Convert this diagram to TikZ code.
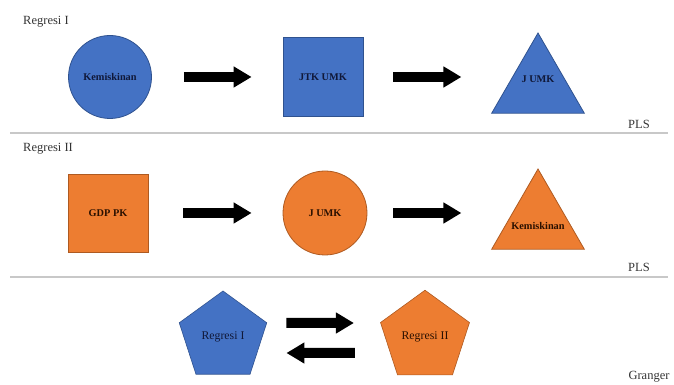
\documentclass[tikz,border=0pt]{standalone}
\usepackage{fontspec}
\setmainfont{Liberation Serif}
\usetikzlibrary{shapes.geometric,arrows.meta}
\definecolor{bfill}{HTML}{4472C4}
\definecolor{bdraw}{HTML}{2F528F}
\definecolor{ofill}{HTML}{ED7D31}
\definecolor{odraw}{HTML}{AE5A21}
\definecolor{btext}{HTML}{101838}
\definecolor{otext}{HTML}{2A1000}
\definecolor{sep}{HTML}{C8C8C8}
\tikzset{
  bshape/.style={fill=bfill,draw=bdraw,line width=0.8pt,text=btext,font=\bfseries\fontsize{10.3}{12}\selectfont,inner sep=0pt},
  oshape/.style={fill=ofill,draw=odraw,line width=0.8pt,text=otext,font=\bfseries\fontsize{10.3}{12}\selectfont,inner sep=0pt},
  bigarrow/.style={line width=10pt,-{Triangle[length=18pt,width=20pt]}},
  lbl/.style={font=\fontsize{12.5}{14}\selectfont,text=black!80,inner sep=0pt},
  sepline/.style={draw=sep,line width=1.4pt},
  pent/.style={regular polygon,regular polygon sides=5,minimum size=92pt,font=\fontsize{11.8}{13}\selectfont\mdseries}
}
\begin{document}
\begin{tikzpicture}[x=1pt,y=1pt]
\useasboundingbox (0,0) rectangle (674,385);
% Regresi I
\node[lbl,anchor=west] (r1) at (23,363) {Regresi I};
\node[bshape,circle,minimum size=83pt] (kem1) at (110,308) {Kemiskinan};
\node[bshape,rectangle,minimum width=80pt,minimum height=79pt] (jtk) at (323,308) {JTK UMK};
\node[bshape,regular polygon,regular polygon sides=3,minimum size=107pt,
      label={[bshape,fill=none,draw=none,yshift=7pt]center:J UMK}] (jum1) at (538,298.5) {};
\draw[bigarrow] ([xshift=32pt]kem1.east) -- ([xshift=-31pt]jtk.west);
\draw[bigarrow] ([xshift=30pt]jtk.east) -- ([xshift=98pt]jtk.east);
\node[lbl] (pls1) at (639,261) {PLS};
\coordinate (l1a) at (10,252);
\coordinate (l1b) at (668,252);
\draw[sepline] (l1a) -- (l1b);
% Regresi II
\node[lbl,anchor=west] (r2) at (23,236) {Regresi II};
\node[oshape,rectangle,minimum width=80pt,minimum height=78pt] (gdp) at (108,172) {GDP PK};
\node[oshape,circle,minimum size=84pt] (jum2) at (325,172) {J UMK};
\node[oshape,regular polygon,regular polygon sides=3,minimum size=107pt,
      label={[oshape,fill=none,draw=none,yshift=-3pt]center:Kemiskinan}] (kem2) at (538,162.5) {};
\draw[bigarrow] ([xshift=35pt]gdp.east) -- ([xshift=-31pt]jum2.west);
\draw[bigarrow] ([xshift=26pt]jum2.east) -- ([xshift=94pt]jum2.east);
\node[lbl] (pls2) at (639,118) {PLS};
\coordinate (l2a) at (10,108);
\coordinate (l2b) at (668,108);
\draw[sepline] (l2a) -- (l2b);
% Granger
\node[pent,fill=bfill,draw=bdraw,line width=0.6pt,text=btext] (g1) at (223,48) {Regresi I};
\node[pent,fill=ofill,draw=odraw,line width=0.6pt,text=otext] (g2) at (425,48) {Regresi II};
\draw[bigarrow] ([xshift=24pt,yshift=14pt]g1.east) -- ([xshift=-31pt,yshift=14pt]g2.west);
\draw[bigarrow] ([xshift=-30pt,yshift=-16pt]g2.west) -- ([xshift=24pt,yshift=-16pt]g1.east);
\node[lbl] (gr) at (649,8) {Granger};
\end{tikzpicture}
\end{document}
